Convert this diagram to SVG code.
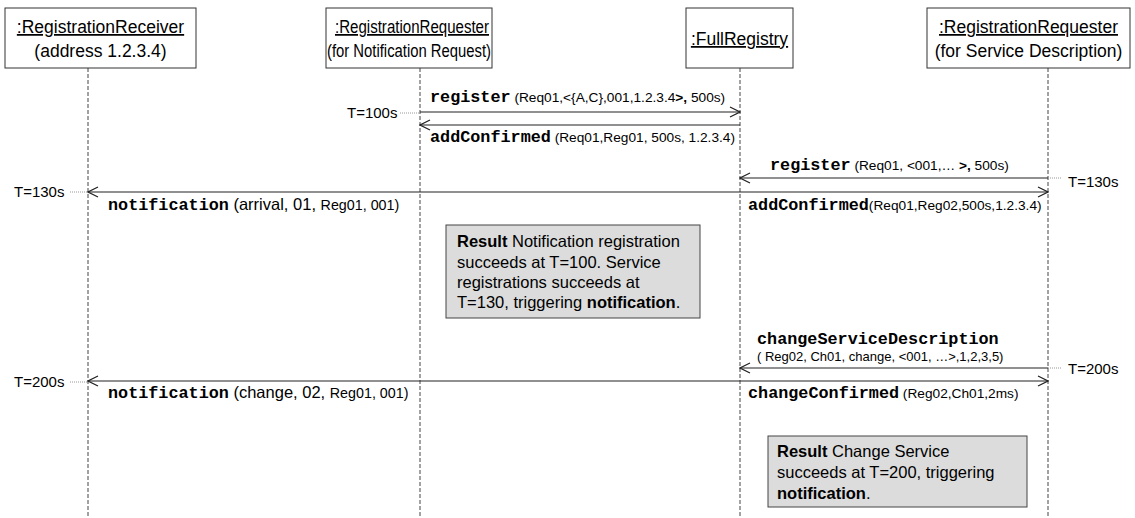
<svg xmlns="http://www.w3.org/2000/svg" width="1135" height="518" viewBox="0 0 1135 518">
<style>
.box{fill:#fff;stroke:#333;stroke-width:1}
.hd{font-family:"Liberation Sans",Arial,sans-serif;font-size:17.5px;fill:#000;text-anchor:middle}
.u{text-decoration:underline}
.life{stroke:#444;stroke-width:1;stroke-dasharray:4,2;fill:none}
.msg{stroke:#222;stroke-width:1.2;fill:none}
.dot{stroke:#999;stroke-width:1;stroke-dasharray:1,1;fill:none}
.t{font-family:"Liberation Sans",Arial,sans-serif;font-size:15px;fill:#000}
.m{font-family:"Liberation Mono","Courier New",monospace;font-size:16.8px;font-weight:bold;fill:#000}
.p{font-family:"Liberation Sans",Arial,sans-serif;font-size:13.7px;fill:#000}
.pl{font-size:16.5px}
.ps{font-size:14.3px}
.note{fill:#dcdcdc;stroke:#444;stroke-width:1}
.nt{font-family:"Liberation Sans",Arial,sans-serif;font-size:16.5px;fill:#000}
.b{font-weight:bold}
</style>
<defs>
<marker id="ah" viewBox="0 0 12 12" refX="11" refY="6" markerWidth="12" markerHeight="12" markerUnits="userSpaceOnUse" orient="auto">
<path d="M1,1 L11,6 L1,11" fill="none" stroke="#222" stroke-width="1.2"/>
</marker>
</defs>

<g id="lifelines">
<line class="life" x1="88" y1="68" x2="88" y2="518"/>
<line class="life" x1="420" y1="68" x2="420" y2="518"/>
<line class="life" x1="740" y1="68" x2="740" y2="518"/>
<line class="life" x1="1048" y1="68" x2="1048" y2="518"/>
</g>

<g id="receiver">
<rect class="box" x="5" y="8" width="191" height="60"/>
<text class="hd u" x="100.5" y="33">:RegistrationReceiver</text>
<text class="hd" x="100.5" y="57">(address 1.2.3.4)</text>
</g>
<g id="requesterNotif">
<rect class="box" x="326" y="8" width="166" height="60"/>
<text class="hd u" x="412" y="33" textLength="154" lengthAdjust="spacingAndGlyphs">:RegistrationRequester</text>
<text class="hd" x="409" y="57" textLength="164" lengthAdjust="spacingAndGlyphs">(for Notification Request)</text>
</g>
<g id="fullRegistry">
<rect class="box" x="686" y="8" width="107" height="60"/>
<text class="hd u" x="739.5" y="45">:FullRegistry</text>
</g>
<g id="requesterService">
<rect class="box" x="927" y="8" width="203" height="60"/>
<text class="hd u" x="1028.5" y="33">:RegistrationRequester</text>
<text class="hd" x="1028.5" y="57">(for Service Description)</text>
</g>

<g id="connectors">
<line class="msg" x1="420" y1="112" x2="740" y2="112" marker-end="url(#ah)"/>
<line class="msg" x1="740" y1="125" x2="420" y2="125" marker-end="url(#ah)"/>
<line class="msg" x1="1048" y1="178" x2="740" y2="178" marker-end="url(#ah)"/>
<line class="msg" x1="740" y1="192" x2="1048" y2="192" marker-end="url(#ah)"/>
<line class="msg" x1="740" y1="192" x2="88" y2="192" marker-end="url(#ah)"/>
<line class="msg" x1="1048" y1="368" x2="740" y2="368" marker-end="url(#ah)"/>
<line class="msg" x1="740" y1="381" x2="1048" y2="381" marker-end="url(#ah)"/>
<line class="msg" x1="740" y1="381" x2="88" y2="381" marker-end="url(#ah)"/>
<line class="dot" x1="400" y1="113" x2="420" y2="113"/>
<line class="dot" x1="1048" y1="178" x2="1062" y2="178"/>
<line class="dot" x1="70" y1="192" x2="88" y2="192"/>
<line class="dot" x1="1048" y1="368" x2="1062" y2="368"/>
<line class="dot" x1="70" y1="382" x2="88" y2="382"/>
</g>

<g id="labels">
<text x="430" y="102"><tspan class="m">register</tspan><tspan class="p"> (Req01,&lt;{A,C},001,1.2.3.4</tspan><tspan class="p b">&gt;,</tspan><tspan class="p"> 500s)</tspan></text>
<text x="430" y="142"><tspan class="m">addConfirmed</tspan><tspan class="p"> (Req01,Reg01, 500s, 1.2.3.4)</tspan></text>
<text x="770" y="170"><tspan class="m">register</tspan><tspan class="p"> (Req01, &lt;001,… </tspan><tspan class="p b">&gt;,</tspan><tspan class="p"> 500s)</tspan></text>
<text x="748" y="210"><tspan class="m">addConfirmed</tspan><tspan class="p">(Req01,Reg02,500s,1.2.3.4)</tspan></text>
<text x="108" y="210"><tspan class="m">notification</tspan><tspan class="p pl"> (arrival, 01, </tspan><tspan class="p ps">Reg01, 001)</tspan></text>
<text class="m" x="757" y="344">changeServiceDescription</text>
<text class="p" x="757" y="361" style="font-size:13px">( Reg02, Ch01, change, &lt;001, …&gt;,1,2,3,5)</text>
<text x="748" y="398"><tspan class="m">changeConfirmed</tspan><tspan class="p">  (Reg02,Ch01,2ms)</tspan></text>
<text x="108" y="398"><tspan class="m">notification</tspan><tspan class="p pl"> (change, 02, </tspan><tspan class="p ps">Reg01, 001)</tspan></text>
<text class="t" x="347" y="118">T=100s</text>
<text class="t" x="1068" y="187">T=130s</text>
<text class="t" x="14" y="197">T=130s</text>
<text class="t" x="1068" y="374">T=200s</text>
<text class="t" x="14" y="387">T=200s</text>
</g>

<g id="note1">
<rect class="note" x="446" y="225" width="254" height="93"/>
<text class="nt" x="457" y="247"><tspan class="b">Result</tspan> Notification registration</text>
<text class="nt" x="457" y="268">succeeds at T=100. Service</text>
<text class="nt" x="457" y="288">registrations succeeds at</text>
<text class="nt" x="457" y="308">T=130, triggering <tspan class="b">notification</tspan>.</text>
</g>
<g id="note2">
<rect class="note" x="768" y="436" width="259" height="71"/>
<text class="nt" x="777" y="457"><tspan class="b">Result</tspan> Change Service</text>
<text class="nt" x="777" y="478">succeeds at T=200, triggering</text>
<text class="nt" x="777" y="499"><tspan class="b">notification</tspan>.</text>
</g>
</svg>
